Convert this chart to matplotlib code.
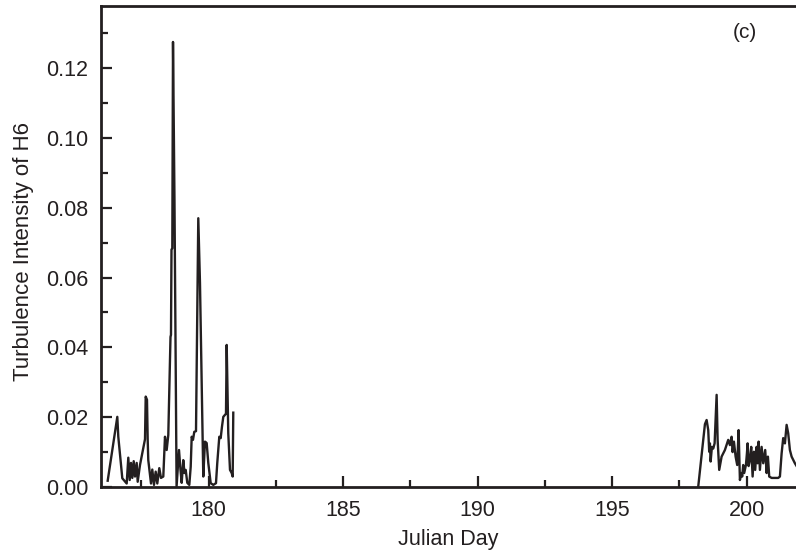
import matplotlib
matplotlib.use("Agg")
import matplotlib.pyplot as plt
from matplotlib.ticker import MultipleLocator, FormatStrFormatter

plt.rcParams['font.family'] = ['Liberation Sans', 'DejaVu Sans']

# Turbulence intensity of H6, first burst of records (Julian day, value)
day_a = [176.249, 176.606, 176.643, 176.792, 176.955, 177.015, 177.067, 177.115,
         177.164, 177.216, 177.264, 177.327, 177.364, 177.450, 177.636, 177.662,
         177.710, 177.736, 177.758, 177.859, 177.907, 177.970, 178.033, 178.093,
         178.167, 178.230, 178.316, 178.379, 178.442, 178.502, 178.584, 178.602,
         178.621, 178.651, 178.677, 178.732, 178.810, 178.900, 178.955, 179.000,
         179.059, 179.104, 179.149, 179.208, 179.283, 179.335, 179.372, 179.420,
         179.468, 179.532, 179.617, 179.680, 179.743, 179.803, 179.866, 179.929,
         179.989, 180.078, 180.175, 180.275, 180.323, 180.398, 180.450, 180.498,
         180.547, 180.647, 180.673, 180.732, 180.796, 180.859, 180.896, 180.918]
ti_a = [0.0018, 0.0201, 0.0144, 0.0025, 0.0010, 0.0084, 0.0020, 0.0069,
        0.0026, 0.0074, 0.0030, 0.0069, 0.0015, 0.0063, 0.0137, 0.0259,
        0.0250, 0.0135, 0.0077, 0.0010, 0.0050, 0.0006, 0.0044, 0.0010,
        0.0054, 0.0026, 0.0030, 0.0144, 0.0106, 0.0149, 0.0430, 0.0436,
        0.0680, 0.0684, 0.1275, 0.0820, 0.0002, 0.0106, 0.0050, 0.0012,
        0.0077, 0.0040, 0.0049, 0.0012, 0.0006, 0.0058, 0.0144, 0.0135,
        0.0158, 0.0160, 0.0770, 0.0585, 0.0300, 0.0030, 0.0130, 0.0126,
        0.0069, 0.0011, 0.0006, 0.0011, 0.0069, 0.0144, 0.0140, 0.0173,
        0.0201, 0.0210, 0.0407, 0.0154, 0.0049, 0.0040, 0.0030, 0.0213]

# second burst of records
day_b = [198.205, 198.454, 198.517, 198.577, 198.613, 198.639, 198.666, 198.714,
         198.762, 198.814, 198.889, 198.926, 198.985, 199.074, 199.197, 199.320,
         199.383, 199.446, 199.483, 199.532, 199.595, 199.654, 199.706, 199.755,
         199.803, 199.840, 199.877, 199.914, 199.978, 200.015, 200.041, 200.078,
         200.126, 200.175, 200.227, 200.275, 200.323, 200.375, 200.413, 200.450,
         200.498, 200.561, 200.621, 200.695, 200.747, 200.796, 200.844, 200.933,
         201.056, 201.178, 201.242, 201.305, 201.364, 201.428, 201.491, 201.550,
         201.613, 201.677, 201.799, 201.940]
ti_b = [0.0001, 0.0180, 0.0192, 0.0163, 0.0101, 0.0125, 0.0073, 0.0115,
        0.0110, 0.0125, 0.0264, 0.0135, 0.0049, 0.0087, 0.0106, 0.0135,
        0.0120, 0.0144, 0.0100, 0.0130, 0.0087, 0.0063, 0.0163, 0.0020,
        0.0040, 0.0030, 0.0063, 0.0040, 0.0063, 0.0096, 0.0125, 0.0060,
        0.0077, 0.0115, 0.0030, 0.0101, 0.0049, 0.0115, 0.0068, 0.0130,
        0.0049, 0.0115, 0.0068, 0.0106, 0.0040, 0.0087, 0.0030, 0.0026,
        0.0026, 0.0026, 0.0030, 0.0096, 0.0140, 0.0125, 0.0178, 0.0154,
        0.0106, 0.0087, 0.0068, 0.0050]

fig = plt.figure(figsize=(7.96, 5.58), dpi=100)
ax = fig.add_axes([101 / 796, 71 / 558, 695 / 796, 481 / 558])

line_color = '#231f20'
ax.plot(day_a, ti_a, color=line_color, lw=1.7)
ax.plot(day_b, ti_b, color=line_color, lw=1.7)

ax.set_xlim(176, 201.84)
ax.set_ylim(0, 0.1378)

ax.xaxis.set_major_locator(MultipleLocator(5))
ax.xaxis.set_minor_locator(MultipleLocator(2.5))
ax.yaxis.set_major_locator(MultipleLocator(0.02))
ax.yaxis.set_minor_locator(MultipleLocator(0.01))
ax.yaxis.set_major_formatter(FormatStrFormatter('%.2f'))

ax.tick_params(which='both', direction='in', top=False, right=False,
               width=1.6, color=line_color, labelsize=15.5, labelcolor=line_color)
ax.tick_params(which='major', length=8, pad=9)
ax.tick_params(which='minor', length=5)

for side in ['left', 'bottom', 'top']:
    ax.spines[side].set_linewidth(2)
    ax.spines[side].set_color(line_color)
ax.spines['right'].set_visible(False)

ax.set_xlabel('Julian Day', fontsize=15.5, color=line_color, labelpad=6)
ax.set_ylabel('Turbulence Intensity of H6', fontsize=16, color=line_color)
ax.yaxis.set_label_coords(-0.097, 0.49)

# panel tag in the top right corner
fig.text(745 / 796, 1 - 33 / 558, '(c)', fontsize=15, color=line_color,
         ha='center', va='center')

fig.savefig('out.png', dpi=100)
